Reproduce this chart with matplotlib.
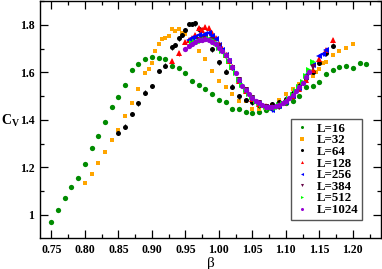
import matplotlib
matplotlib.use("Agg")
import matplotlib.pyplot as plt
from matplotlib.ticker import MultipleLocator
from matplotlib.lines import Line2D

plt.rcParams['font.family'] = ['Liberation Serif', 'DejaVu Serif']
plt.rcParams['mathtext.fontset'] = 'custom'
plt.rcParams['mathtext.rm'] = 'Liberation Serif'
plt.rcParams['mathtext.bf'] = 'Liberation Serif:bold'
plt.rcParams['mathtext.it'] = 'Liberation Serif:italic'

# ---------------- data ----------------
beta_16 = [0.75, 0.76, 0.77, 0.78, 0.79, 0.80, 0.81, 0.82, 0.83, 0.84, 0.85, 0.86, 0.87, 0.88,
           0.89, 0.90, 0.91, 0.92, 0.93, 0.94, 0.95, 0.96, 0.97, 0.98, 0.99, 1.00, 1.01, 1.02,
           1.03, 1.04, 1.05, 1.06, 1.07, 1.08, 1.09, 1.10, 1.11, 1.12, 1.13, 1.14, 1.15, 1.16,
           1.17, 1.18, 1.19, 1.20, 1.21, 1.22]
cv_16 = [0.972, 1.020, 1.070, 1.117, 1.155, 1.216, 1.282, 1.331, 1.390, 1.453, 1.498, 1.547, 1.610, 1.635,
         1.657, 1.665, 1.662, 1.658, 1.627, 1.618, 1.597, 1.564, 1.547, 1.529, 1.510, 1.486, 1.477, 1.445,
         1.448, 1.434, 1.430, 1.435, 1.440, 1.450, 1.460, 1.470, 1.482, 1.500, 1.538, 1.543, 1.561, 1.592,
         1.610, 1.624, 1.627, 1.618, 1.640, 1.635]

beta_32 = [0.80, 0.81, 0.82, 0.83, 0.84, 0.85, 0.86, 0.87, 0.88, 0.89, 0.895, 0.90, 0.905, 0.91,
           0.915, 0.92, 0.925, 0.93, 0.935, 0.94, 0.945, 0.95, 0.97, 0.98, 0.99, 1.00, 1.01, 1.02,
           1.03, 1.04, 1.05, 1.06, 1.07, 1.08, 1.09, 1.10, 1.11, 1.12, 1.13, 1.14, 1.145, 1.15,
           1.155, 1.16, 1.17, 1.18, 1.19, 1.20]
cv_32 = [1.136, 1.173, 1.220, 1.267, 1.317, 1.358, 1.417, 1.470, 1.530, 1.597, 1.613, 1.641, 1.692, 1.719,
         1.740, 1.747, 1.754, 1.782, 1.775, 1.782, 1.765, 1.762, 1.692, 1.656, 1.605, 1.566, 1.538, 1.510,
         1.479, 1.480, 1.447, 1.446, 1.452, 1.465, 1.485, 1.510, 1.530, 1.550, 1.573, 1.585, 1.603, 1.615,
         1.641, 1.646, 1.674, 1.690, 1.702, 1.720]

beta_64 = [0.85, 0.86, 0.87, 0.88, 0.89, 0.90, 0.91, 0.92, 0.93, 0.935, 0.94, 0.945, 0.95, 0.955,
           0.96, 0.965, 0.97, 0.98, 0.99, 1.00, 1.01, 1.02, 1.03, 1.04, 1.05, 1.06, 1.07, 1.08,
           1.09, 1.10, 1.11, 1.12, 1.13, 1.14, 1.15, 1.16, 1.17]
cv_64 = [1.345, 1.372, 1.425, 1.470, 1.515, 1.543, 1.606, 1.629, 1.706, 1.716, 1.744, 1.758, 1.779, 1.804,
         1.804, 1.807, 1.782, 1.745, 1.698, 1.643, 1.603, 1.540, 1.500, 1.484, 1.474, 1.462, 1.456, 1.466,
         1.476, 1.490, 1.515, 1.545, 1.575, 1.603, 1.640, 1.680, 1.712]

beta_128 = [0.93, 0.94, 0.95, 0.955, 0.96, 0.965, 0.97, 0.975, 0.98, 0.985, 0.99, 0.995, 1.00, 1.005,
            1.01, 1.015, 1.02, 1.03, 1.04, 1.05, 1.06, 1.07, 1.08, 1.09, 1.10, 1.11, 1.12, 1.13,
            1.14, 1.15, 1.16, 1.17]
cv_128 = [1.648, 1.681, 1.728, 1.735, 1.745, 1.758, 1.786, 1.780, 1.792, 1.786, 1.765, 1.745, 1.720, 1.700,
          1.675, 1.650, 1.625, 1.565, 1.520, 1.488, 1.468, 1.458, 1.455, 1.462, 1.478, 1.500, 1.530, 1.570,
          1.610, 1.655, 1.695, 1.735]

beta_256 = [0.955, 0.96, 0.965, 0.97, 0.975, 0.98, 0.985, 0.99, 0.995, 1.00, 1.005, 1.01, 1.015, 1.02,
            1.03, 1.04, 1.05, 1.06, 1.07, 1.08, 1.09, 1.10, 1.11, 1.12, 1.13, 1.14, 1.15, 1.155, 1.16]
cv_256 = [1.735, 1.744, 1.750, 1.758, 1.755, 1.762, 1.765, 1.755, 1.740, 1.715, 1.695, 1.672, 1.648, 1.620,
          1.565, 1.522, 1.490, 1.468, 1.455, 1.443, 1.458, 1.475, 1.500, 1.535, 1.590, 1.630, 1.668, 1.678, 1.695]

beta_384 = [0.96, 0.97, 0.98, 0.99, 1.00, 1.01, 1.02, 1.03, 1.04, 1.05, 1.06, 1.07, 1.08, 1.09,
            1.10, 1.11, 1.12, 1.13, 1.14]
cv_384 = [1.720, 1.735, 1.740, 1.735, 1.712, 1.670, 1.620, 1.570, 1.525, 1.492, 1.470, 1.456, 1.450, 1.455,
          1.470, 1.500, 1.535, 1.580, 1.625]

beta_512 = [0.96, 0.965, 0.97, 0.975, 0.98, 0.985, 0.99, 0.995, 1.00, 1.005, 1.01, 1.015, 1.02, 1.025,
            1.03, 1.035, 1.04, 1.045, 1.05, 1.055, 1.06, 1.065, 1.07, 1.075, 1.08, 1.085, 1.09, 1.095,
            1.10, 1.105, 1.11, 1.115, 1.12, 1.125, 1.13, 1.135, 1.14]
cv_512 = [1.725, 1.728, 1.730, 1.735, 1.738, 1.740, 1.737, 1.723, 1.705, 1.690, 1.672, 1.650, 1.625, 1.598,
          1.570, 1.548, 1.528, 1.510, 1.495, 1.480, 1.470, 1.462, 1.455, 1.452, 1.450, 1.452, 1.462, 1.468,
          1.470, 1.490, 1.505, 1.522, 1.540, 1.560, 1.585, 1.610, 1.645]

beta_1024 = [0.95, 0.955, 0.96, 0.965, 0.97, 0.975, 0.98, 0.985, 0.99, 0.995, 1.00, 1.005, 1.01, 1.015,
             1.02, 1.025, 1.03, 1.035, 1.04, 1.045, 1.05, 1.055, 1.06, 1.065, 1.07, 1.075, 1.08, 1.085,
             1.09, 1.095, 1.10, 1.105, 1.11, 1.115, 1.12, 1.125, 1.13, 1.135]
cv_1024 = [1.698, 1.710, 1.720, 1.728, 1.735, 1.738, 1.740, 1.738, 1.730, 1.720, 1.705, 1.690, 1.672, 1.652,
           1.625, 1.598, 1.568, 1.545, 1.525, 1.508, 1.493, 1.480, 1.470, 1.462, 1.456, 1.455, 1.455, 1.458,
           1.462, 1.470, 1.480, 1.492, 1.505, 1.520, 1.538, 1.557, 1.580, 1.600]

labels = ['L=16', 'L=32', 'L=64', 'L=128', 'L=256', 'L=384', 'L=512', 'L=1024']
errs = [0.0, 0.0, 0.010, 0.010, 0.008, 0.008, 0.006, 0.008]

series = [(beta_16, cv_16), (beta_32, cv_32), (beta_64, cv_64), (beta_128, cv_128),
          (beta_256, cv_256), (beta_384, cv_384), (beta_512, cv_512), (beta_1024, cv_1024)]
colors = ['#008b00', '#ffa500', '#000000', '#ff0000', '#0000ff', '#670748', '#00ff00', '#9400d3']
markers = ['o', 's', 'o', '^', '<', 'v', '>', 'o']
msizes = [3.8, 3.5, 3.6, 3.9, 3.9, 3.9, 3.9, 3.8]

# ---------------- figure ----------------
fig = plt.figure(figsize=(3.82, 2.69), dpi=100)
ax = fig.add_axes([40/382, 31/269, 341/382, 237/269])

handles = []
for (b, c), lab, col, mk, ms, e in zip(series, labels, colors, markers, msizes, errs):
    if e > 0:
        ax.errorbar(b, c, yerr=e, fmt=mk, color=col, ms=ms, mew=0, elinewidth=0.8,
                    capsize=1.5, capthick=0.8)
    else:
        ax.plot(b, c, mk, color=col, ms=ms, mew=0, linestyle='none')
    handles.append(Line2D([], [], marker=mk, color=col, ms=2.2, mew=0, linestyle='none', label=lab))

ax.set_xlim(0.733, 1.242)
ax.set_ylim(0.903, 1.901)
ax.xaxis.set_minor_locator(MultipleLocator(0.025))
ax.yaxis.set_minor_locator(MultipleLocator(0.1))
ax.tick_params(which='both', direction='in', top=True, right=True, width=0.9)
ax.tick_params(which='major', length=6, labelsize=8.5, pad=4)
ax.tick_params(which='minor', length=3)
ax.set_xticks([0.75, 0.80, 0.85, 0.90, 0.95, 1.00, 1.05, 1.10, 1.15, 1.20])
ax.set_xticklabels(['0.75', '0.80', '0.85', '0.90', '0.95', '1.00', '1.05', '1.10', '1.15', '1.20'],
                   fontweight='bold')
ax.set_yticks([1.0, 1.2, 1.4, 1.6, 1.8])
ax.set_yticklabels(['1', '1.2', '1.4', '1.6', '1.8'], fontweight='bold')
for sp in ax.spines.values():
    sp.set_linewidth(1.0)

ax.set_xlabel('β', fontsize=11, labelpad=1)
fig.text(1/382, 1 - 121/269, r'$\mathbf{C_V}$', fontsize=10, va='center', ha='left')

leg = ax.legend(handles=handles, loc='lower right',
                bbox_to_anchor=((362 - 40) / 341, (238 - 220) / 237),
                bbox_transform=ax.transAxes, borderaxespad=0.0,
                prop={'weight': 'bold', 'size': 9.3},
                frameon=True, fancybox=False, edgecolor='#555555', framealpha=1,
                handlelength=1.0, handletextpad=0.65, labelspacing=-0.03, borderpad=0.3,
                numpoints=1)
leg.get_frame().set_linewidth(1.0)

fig.savefig('out.png', dpi=100)
